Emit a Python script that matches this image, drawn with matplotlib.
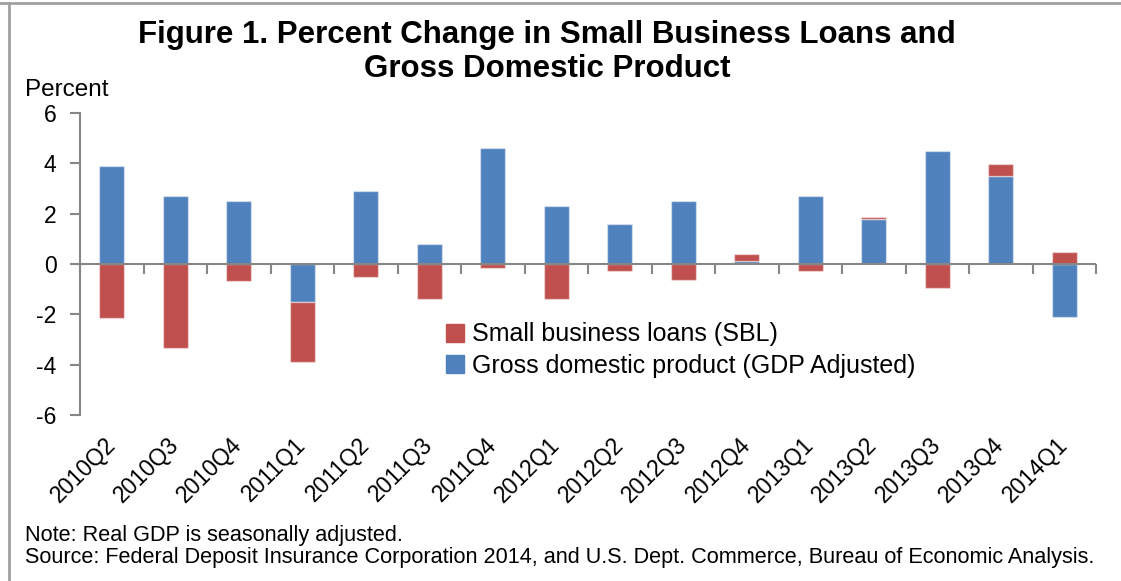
import matplotlib.pyplot as plt
from matplotlib.lines import Line2D
import numpy as np

plt.rcParams['font.family'] = ['Liberation Sans', 'DejaVu Sans']
plt.rcParams['axes.unicode_minus'] = False

# данные
quarters = ['2010Q2', '2010Q3', '2010Q4', '2011Q1', '2011Q2', '2011Q3', '2011Q4', '2012Q1',
            '2012Q2', '2012Q3', '2012Q4', '2013Q1', '2013Q2', '2013Q3', '2013Q4', '2014Q1']
gdp = [3.9, 2.7, 2.5, -1.5, 2.9, 0.8, 4.6, 2.3, 1.6, 2.5, 0.1, 2.7, 1.8, 4.5, 3.5, -2.1]
sbl = [-2.15, -3.35, -0.69, -2.4, -0.52, -1.38, -0.17, -1.38, -0.28, -0.65, 0.31, -0.27, 0.06, -0.94, 0.48, 0.47]

blue = '#4F81BD'
red = '#C0504D'
grey = '#868686'

fig = plt.figure(figsize=(11.21, 5.81), dpi=100)
ax = fig.add_axes([0.0714, 0.2857, 0.9063, 0.5198])

x = np.arange(len(quarters))
gdp = np.array(gdp)
sbl = np.array(sbl)
# стек как в Excel: плюсы к плюсам, минусы к минусам
sbl_bottom = np.where(sbl >= 0, np.maximum(gdp, 0), np.minimum(gdp, 0))

ax.bar(x, gdp, width=0.4, color=blue, edgecolor=(1, 1, 1, 0.45), linewidth=1, zorder=2)
ax.bar(x, sbl, width=0.4, bottom=sbl_bottom, color=red, edgecolor=(1, 1, 1, 0.45), linewidth=1, zorder=2)

ax.set_xlim(-0.5, len(quarters) - 0.5)
ax.set_ylim(-6, 6)
ax.set_yticks([-6, -4, -2, 0, 2, 4, 6])

for s in ['top', 'right', 'bottom']:
    ax.spines[s].set_visible(False)
ax.spines['left'].set_color(grey)
ax.spines['left'].set_linewidth(1.5)
ax.tick_params(axis='y', colors=grey, length=7, width=1.5, pad=10, labelsize=16.5, labelcolor='black')

ax.set_xticks(x)
ax.set_xticklabels(quarters, rotation=45, ha='right', va='center', rotation_mode='anchor', fontsize=16.5)
ax.tick_params(axis='x', length=0, pad=19)

# нулевая линия с засечками между кварталами
ax.axhline(0, color=grey, linewidth=1.5, zorder=3)
sec = ax.secondary_xaxis(0, transform=ax.transData)
sec.set_xticks(np.arange(-0.5, len(quarters), 1.0))
sec.set_xticklabels([])
sec.tick_params(axis='x', colors=grey, length=7, width=1.5, direction='out')
sec.spines['bottom'].set_visible(False)

fig.text(0.488, 0.940, 'Figure 1. Percent Change in Small Business Loans and',
         ha='center', va='center', fontsize=22.5, fontweight='bold')
fig.text(0.488, 0.881, 'Gross Domestic Product',
         ha='center', va='center', fontsize=22.5, fontweight='bold')
fig.text(0.022, 0.845, 'Percent', ha='left', va='center', fontsize=17.5)

handles = [Line2D([], [], marker='s', linestyle='none', markersize=13, color=red),
           Line2D([], [], marker='s', linestyle='none', markersize=13, color=blue)]
ax.legend(handles, ['Small business loans (SBL)', 'Gross domestic product (GDP Adjusted)'],
          loc='upper left', bbox_to_anchor=(0.349, 0.34), frameon=False, fontsize=18,
          handlelength=0.8, handletextpad=0.3, labelspacing=0.3, borderaxespad=0)

fig.text(0.022, 0.079, 'Note: Real GDP is seasonally adjusted.', ha='left', va='center', fontsize=15.6)
fig.text(0.022, 0.040, 'Source: Federal Deposit Insurance Corporation 2014, and U.S. Dept. Commerce, '
         'Bureau of Economic Analysis.', ha='left', va='center', fontsize=15.6)

# рамка слева и сверху
fig.add_artist(Line2D([0.0, 1.0], [0.995, 0.995], color='#a0a0a0', linewidth=2, transform=fig.transFigure))
fig.add_artist(Line2D([0.008, 0.008], [0.0, 0.995], color='#a0a0a0', linewidth=2, transform=fig.transFigure))

fig.savefig('out.png', dpi=100)
